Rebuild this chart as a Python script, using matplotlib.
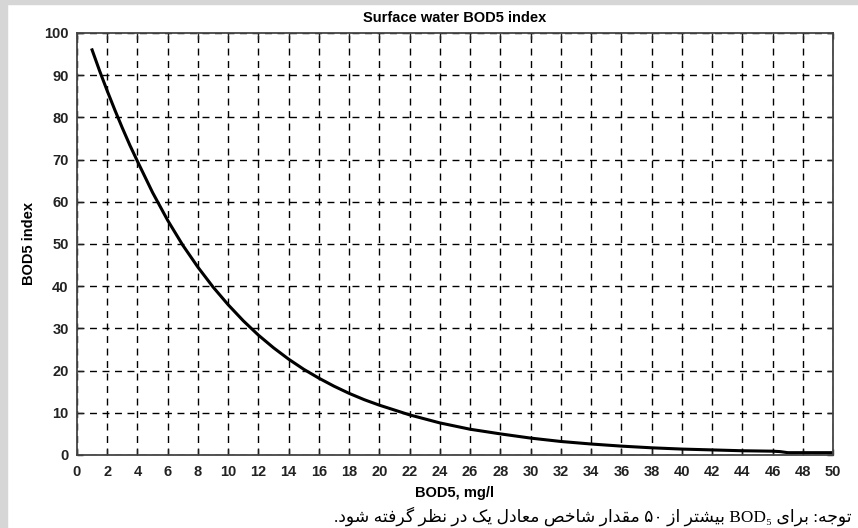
import matplotlib
matplotlib.use("Agg")
import matplotlib.pyplot as plt
from matplotlib.patches import Rectangle

#%% Data
bod5 = [1, 1.5, 2, 2.5, 3, 3.5, 4, 5, 6, 7, 8, 9, 10, 11, 12, 13, 14, 15, 16, 17,
        18, 19, 20, 22, 24, 26, 28, 30, 32, 34, 36, 38, 40, 42, 44, 46, 46.5, 47, 50]
index = [96, 91, 86.3, 81.8, 77.5, 73.4, 69.6, 62.2, 55.6, 49.7, 44.5, 39.8, 35.6,
         31.8, 28.4, 25.4, 22.7, 20.3, 18.2, 16.3, 14.6, 13.1, 11.8, 9.5, 7.6, 6.1,
         5.0, 4.0, 3.2, 2.6, 2.1, 1.7, 1.4, 1.2, 1.0, 0.9, 0.8, 0.55, 0.55]
x_ticks = list(range(0, 51, 2))
y_ticks = list(range(0, 101, 10))

title = 'Surface water BOD5 index'
x_label = 'BOD5, mg/l'
y_label = 'BOD5 index'
# note words in logical (reading) order
note_words = ['توجه:', 'برای', 'BOD₅', 'بیشتر', 'از', '۵۰', 'مقدار', 'شاخص',
              'معادل', 'یک', 'در', 'نظر', 'گرفته', 'شود.']

#%% Small Persian shaper (matplotlib does no Arabic shaping / RTL)
# char: (isolated, final, initial, medial) ; two entries = joins on right only
forms = {
    'ا': ('\uFE8D', '\uFE8E'),
    'ب': ('\uFE8F', '\uFE90', '\uFE91', '\uFE92'),
    'ت': ('\uFE95', '\uFE96', '\uFE97', '\uFE98'),
    'ج': ('\uFE9D', '\uFE9E', '\uFE9F', '\uFEA0'),
    'خ': ('\uFEA5', '\uFEA6', '\uFEA7', '\uFEA8'),
    'د': ('\uFEA9', '\uFEAA'),
    'ر': ('\uFEAD', '\uFEAE'),
    'ز': ('\uFEAF', '\uFEB0'),
    'ش': ('\uFEB5', '\uFEB6', '\uFEB7', '\uFEB8'),
    'ص': ('\uFEB9', '\uFEBA', '\uFEBB', '\uFEBC'),
    'ظ': ('\uFEC5', '\uFEC6', '\uFEC7', '\uFEC8'),
    'ع': ('\uFEC9', '\uFECA', '\uFECB', '\uFECC'),
    'ف': ('\uFED1', '\uFED2', '\uFED3', '\uFED4'),
    'ق': ('\uFED5', '\uFED6', '\uFED7', '\uFED8'),
    'ل': ('\uFEDD', '\uFEDE', '\uFEDF', '\uFEE0'),
    'م': ('\uFEE1', '\uFEE2', '\uFEE3', '\uFEE4'),
    'ن': ('\uFEE5', '\uFEE6', '\uFEE7', '\uFEE8'),
    'ه': ('\uFEE9', '\uFEEA', '\uFEEB', '\uFEEC'),
    'و': ('\uFEED', '\uFEEE'),
    'ی': ('\uFBFC', '\uFBFD', '\uFBFE', '\uFBFF'),
    'ک': ('\uFB8E', '\uFB8F', '\uFB90', '\uFB91'),
    'گ': ('\uFB92', '\uFB93', '\uFB94', '\uFB95'),
}


def shape_word(w):
    out = []
    for i, c in enumerate(w):
        if c not in forms:
            out.append(c)
            continue
        prev = w[i-1] if i > 0 else ''
        nxt = w[i+1] if i+1 < len(w) else ''
        join_prev = prev in forms and len(forms[prev]) == 4
        join_next = len(forms[c]) == 4 and nxt in forms
        f = forms[c]
        if join_prev and join_next:
            out.append(f[3])
        elif join_prev:
            out.append(f[1])
        elif join_next:
            out.append(f[2])
        else:
            out.append(f[0])
    return ''.join(out[::-1])


def visual(words):
    res = []
    for w in words[::-1]:
        if any(c in forms for c in w):
            res.append(shape_word(w))
        else:
            res.append(w)
    return ' '.join(res)


#%% Plot
plt.rcParams['font.family'] = ['Liberation Sans', 'DejaVu Sans']
fig = plt.figure(figsize=(8.58, 5.28), dpi=100)
fig.patches.append(Rectangle((0, 0), 0.008, 1, transform=fig.transFigure,
                             color='#d6d6d6', zorder=0))
fig.patches.append(Rectangle((0, 0.992), 1, 0.008, transform=fig.transFigure,
                             color='#d6d6d6', zorder=0))
ax = fig.add_axes([0.0897, 0.1383, 0.8812, 0.7992])

ax.plot(bod5, index, color='black', lw=2.2, solid_joinstyle='round')

ax.set_xlim(0, 50)
ax.set_ylim(0, 100)
ax.set_xticks(x_ticks)
ax.set_yticks(y_ticks)
ax.grid(True, color='black', linestyle=(0, (5, 4)), linewidth=1.0)
ax.tick_params(direction='in', top=True, right=True, length=4, width=1,
               labelsize=10.5, colors='#222222')
ax.tick_params(axis='x', pad=7)
ax.tick_params(axis='y', pad=6)
for lab in ax.get_xticklabels() + ax.get_yticklabels():
    lab.set_fontweight('bold')
for s in ax.spines.values():
    s.set_color('#444444')
    s.set_linewidth(1.3)

ax.set_title(title, fontsize=10.5, fontweight='bold', pad=8)
ax.set_xlabel(x_label, fontsize=10.5, fontweight='bold', labelpad=5)
ax.set_ylabel(y_label, fontsize=10.5, fontweight='bold', labelpad=6)

fig.text(0.993, 0.012, visual(note_words), ha='right', va='baseline',
         fontsize=12.4, family=['Liberation Serif', 'DejaVu Sans'])

fig.savefig('out.png', dpi=100)
